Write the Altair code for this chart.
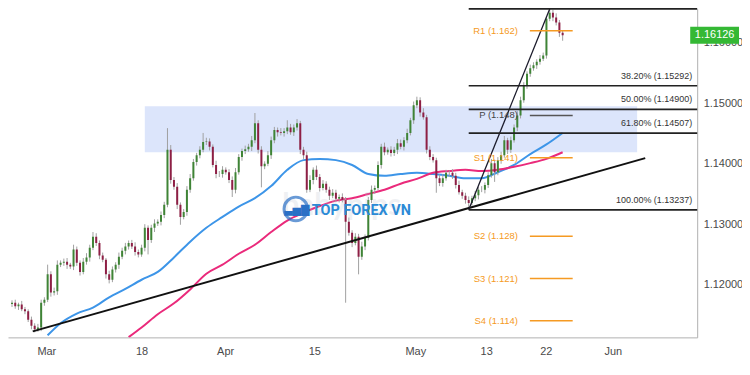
import json
import altair as alt
import pandas as pd

# ---------------- data ----------------
closes = [
    1.1170, 1.1164, 1.1167, 1.1159, 1.1156, 1.1142, 1.1132, 1.1126, 1.1129, 1.1170,
    1.1175, 1.1217, 1.1187, 1.1189, 1.1233, 1.1236, 1.1238, 1.1233, 1.1230, 1.1258,
    1.1236, 1.1221, 1.1238, 1.1245, 1.1261, 1.1279, 1.1269, 1.1248, 1.1241, 1.1217,
    1.1208, 1.1225, 1.1233, 1.1246, 1.1256, 1.1263, 1.1269, 1.1263, 1.1254, 1.1250,
    1.1261, 1.1294, 1.1274, 1.1294, 1.1301, 1.1304, 1.1315, 1.1332, 1.1423, 1.1373,
    1.1362, 1.1332, 1.1312, 1.1320, 1.1357, 1.1376, 1.1403, 1.1414, 1.1423, 1.1436,
    1.1437, 1.1428, 1.1398, 1.1383, 1.1383, 1.1390, 1.1386, 1.1373, 1.1357, 1.1386,
    1.1411, 1.1421, 1.1424, 1.1428, 1.1439, 1.1467, 1.1423, 1.1396, 1.1400, 1.1414,
    1.1439, 1.1456, 1.1452, 1.1451, 1.1454, 1.1460, 1.1452, 1.1460, 1.1467, 1.1423,
    1.1414, 1.1357, 1.1373, 1.1390, 1.1378, 1.1360, 1.1367, 1.1357, 1.1347, 1.1352,
    1.1342, 1.1345, 1.1340, 1.1304, 1.1286, 1.1269, 1.1279, 1.1246, 1.1263, 1.1277,
    1.1340, 1.1357, 1.1360, 1.1398, 1.1428, 1.1419, 1.1423, 1.1418, 1.1423, 1.1434,
    1.1428, 1.1439, 1.1451, 1.1472, 1.1497, 1.1505, 1.1485, 1.1477, 1.1423, 1.1411,
    1.1406, 1.1376, 1.1368, 1.1376, 1.1385, 1.1385, 1.1380, 1.1365, 1.1353, 1.1347,
    1.1340, 1.1335, 1.1343, 1.1348, 1.1357, 1.1357, 1.1365, 1.1381, 1.1401, 1.1386,
    1.1406, 1.1414, 1.1439, 1.1423, 1.1439, 1.1460, 1.1480, 1.1505, 1.1530, 1.1549,
    1.1558, 1.1563, 1.1569, 1.1574, 1.1579, 1.1640, 1.1650, 1.1642, 1.1634, 1.1617,
    1.16126,
]
first_open = 1.1168

# upper / lower wick lengths in pips (0.0001)
up_wick = [
    4, 5, 3, 6, 4, 3, 5, 4, 6, 5,
    4, 16, 5, 6, 7, 4, 5, 6, 3, 8,
    5, 4, 6, 7, 5, 8, 6, 4, 5, 3,
    6, 5, 4, 7, 5, 6, 4, 5, 7, 4,
    5, 6, 4, 5, 7, 4, 6, 5, 36, 8,
    5, 6, 4, 5, 6, 7, 5, 4, 6, 15,
    6, 5, 4, 7, 5, 6, 4, 5, 6, 7,
    5, 4, 6, 5, 7, 17, 5, 6, 4, 7,
    6, 5, 4, 7, 5, 12, 6, 5, 7, 4,
    5, 6, 8, 4, 7, 5, 6, 4, 5, 6,
    5, 4, 6, 5, 7, 4, 6, 5, 8, 6,
    5, 7, 4, 6, 5, 7, 4, 6, 5, 7,
    6, 5, 7, 4, 6, 6, 5, 7, 4, 6,
    5, 4, 6, 7, 5, 4, 6, 5, 7, 4,
    5, 6, 4, 7, 5, 6, 4, 5, 7, 6,
    5, 6, 7, 4, 6, 5, 7, 6, 5, 4,
    6, 5, 4, 6, 5, 4, 6, 5, 7, 4,
    3,
]
dn_wick = [
    5, 4, 6, 3, 5, 4, 6, 5, 4, 6,
    5, 4, 7, 5, 6, 4, 5, 7, 4, 6,
    5, 6, 4, 5, 7, 4, 5, 6, 4, 7,
    6, 4, 5, 7, 4, 6, 5, 4, 6, 5,
    4, 6, 24, 5, 7, 4, 6, 5, 4, 6,
    5, 7, 13, 4, 6, 5, 4, 6, 5, 4,
    5, 6, 4, 7, 5, 6, 4, 5, 12, 6,
    4, 6, 5, 4, 7, 5, 6, 35, 5, 4,
    6, 5, 7, 4, 6, 5, 4, 6, 5, 7,
    6, 5, 4, 7, 5, 6, 4, 5, 7, 4,
    5, 6, 4, 134, 5, 7, 4, 29, 5, 6,
    4, 5, 7, 4, 6, 5, 4, 6, 5, 7,
    4, 6, 5, 4, 6, 5, 7, 4, 6, 5,
    4, 24, 5, 6, 4, 7, 5, 6, 4, 5,
    6, 11, 4, 5, 7, 4, 6, 5, 4, 16,
    5, 6, 4, 7, 5, 4, 6, 5, 4, 6,
    5, 4, 6, 5, 4, 5, 4, 6, 5, 7,
    9,
]

blue_ma_bars = [11, 15, 20, 25, 30, 35, 40, 45, 50, 55, 60, 65, 70, 75, 80, 85, 90,
                95, 100, 105, 110, 115, 120, 125, 130, 135, 140, 145, 150, 155, 160, 165, 170]
blue_ma = [1.1116, 1.1136, 1.1152, 1.1162, 1.1179, 1.1193, 1.1208, 1.1221, 1.1245, 1.1271,
           1.1294, 1.1312, 1.1329, 1.1343, 1.1363, 1.1390, 1.1406, 1.1408, 1.1406, 1.1398,
           1.1383, 1.1380, 1.1383, 1.1385, 1.1383, 1.1380, 1.1376, 1.1376, 1.1386, 1.1398,
           1.1416, 1.1432, 1.1451]
pink_ma_bars = [36, 40, 45, 50, 55, 60, 65, 70, 75, 80, 85, 90, 95, 100, 105, 110, 115,
                120, 125, 130, 135, 140, 145, 150, 155, 160, 165, 170]
pink_ma = [1.1113, 1.1129, 1.1151, 1.1169, 1.1192, 1.1218, 1.1233, 1.1251, 1.1266, 1.1287,
           1.1306, 1.1319, 1.1330, 1.1339, 1.1343, 1.1350, 1.1357, 1.1367, 1.1375, 1.1385,
           1.1388, 1.1390, 1.1388, 1.1390, 1.1395, 1.1401, 1.1408, 1.1419]

fib_ratio = ["0.00%", "38.20%", "50.00%", "61.80%", "100.00%"]
fib_price = [1.16563, 1.15292, 1.14900, 1.14507, 1.13237]
fib_anchor_bar = 141

pivot_name = ["R1", "P", "S1", "S2", "S3", "S4"]
pivot_price = [1.162, 1.148, 1.141, 1.128, 1.121, 1.114]

zone_bars = [41, 193]
zone_prices = [1.1419, 1.1495]

trend_bars = [6.4, 195.5]
trend_prices = [1.11225, 1.14093]
steep_bars = [141, 166]
steep_prices = [1.13237, 1.16563]

x_tick_pos = [10.6, 40.0, 65.8, 93.3, 124.5, 146.4, 164.8, 185.5]
x_tick_lbl = ["Mar", "18", "Apr", "15", "May", "13", "22", "Jun"]
y_ticks = [1.12, 1.13, 1.14, 1.15, 1.16]
last_price = 1.16126
watermark = "TOP FOREX VN"

# ---------------- tables ----------------
assert len(closes) == len(up_wick) == len(dn_wick)
opens = [first_open] + closes[:-1]
rows = []
for i, (o, c, u, d) in enumerate(zip(opens, closes, up_wick, dn_wick)):
    rows.append({
        "bar": i, "open": o, "close": c,
        "high": max(o, c) + u * 1e-4, "low": min(o, c) - d * 1e-4,
        "dir": "up" if c >= o else "down",
    })
candles = pd.DataFrame(rows)

blue_df = pd.DataFrame({"bar": blue_ma_bars, "p": blue_ma})
pink_df = pd.DataFrame({"bar": pink_ma_bars, "p": pink_ma})
trend_df = pd.DataFrame({"bar": trend_bars, "p": trend_prices})
steep_df = pd.DataFrame({"bar": steep_bars, "p": steep_prices})
zone_df = pd.DataFrame({"b1": [zone_bars[0]], "b2": [zone_bars[1]],
                        "p1": [zone_prices[0]], "p2": [zone_prices[1]]})
fib_df = pd.DataFrame({"bar": [fib_anchor_bar] * len(fib_price), "p": fib_price,
                       "label": [f"{r} ({v:.5f})" for r, v in zip(fib_ratio, fib_price)]})
piv_all = pd.DataFrame({"name": pivot_name, "p": pivot_price,
                        "label": [f"{n} ({v:.3f})" for n, v in zip(pivot_name, pivot_price)]})
piv_lv = piv_all[piv_all["name"] != "P"]
piv_p = piv_all[piv_all["name"] == "P"]
badge_df = pd.DataFrame({"p": [last_price], "hi": [last_price + 0.0014],
                         "lo": [last_price - 0.0014], "txt": [f"{last_price:.5f}"]})
wm_df = pd.DataFrame({"t": [watermark]})
bp_df = pd.DataFrame({"t": ["babypips"]})

# ---------------- scales / axes ----------------
FONT = "Liberation Sans Narrow, Liberation Sans, Arial"
W, H = 692, 330
xs = alt.Scale(domain=[0.3, 210], nice=False, zero=False)
ys = alt.Scale(domain=[1.11126, 1.16566], nice=False, zero=False)
xaxis = alt.Axis(values=x_tick_pos, title=None, ticks=False, grid=False,
                 labelExpr=f"{json.dumps(x_tick_lbl)}[indexof({json.dumps(x_tick_pos)}, datum.value)]",
                 domainColor="#b0b0b0", labelColor="#4a4a4a", labelFontSize=11,
                 labelPadding=8, labelFont=FONT)
yaxis = alt.Axis(orient="right", values=y_ticks, format=".5f", title=None, ticks=False,
                 grid=False, domainColor="#b0b0b0", labelColor="#4a4a4a", labelFontSize=11,
                 labelPadding=6, labelFont=FONT)


def X(f):
    return alt.X(f, type="quantitative", scale=xs, axis=xaxis)


def Y(f):
    return alt.Y(f, type="quantitative", scale=ys, axis=yaxis)


zone = alt.Chart(zone_df).mark_rect(color="#dce5fb").encode(
    x=X("b1"), x2="b2", y=Y("p1"), y2="p2")

blue = alt.Chart(blue_df).mark_line(color="#3d95e8", strokeWidth=2, clip=True,
                                    interpolate="monotone").encode(x=X("bar"), y=Y("p"))
pink = alt.Chart(pink_df).mark_line(color="#ea2a7b", strokeWidth=2, clip=True,
                                    interpolate="monotone").encode(x=X("bar"), y=Y("p"))

wicks = alt.Chart(candles).mark_rule(color="#a0a0a0", strokeWidth=1, clip=True).encode(
    x=X("bar"), y=Y("low"), y2="high")
bodies = alt.Chart(candles).mark_bar(size=2, clip=True).encode(
    x=X("bar"), y=Y("open"), y2="close",
    color=alt.Color("dir:N", scale=alt.Scale(domain=["up", "down"],
                                             range=["#3f8436", "#8e1f45"]), legend=None))

trend = alt.Chart(trend_df).mark_line(color="#111111", strokeWidth=2, clip=True).encode(
    x=X("bar"), y=Y("p"))
steep = alt.Chart(steep_df).mark_line(color="#1b1b2b", strokeWidth=1.3, clip=True).encode(
    x=X("bar"), y=Y("p"))

fib_rules = alt.Chart(fib_df).mark_rule(color="#222222", strokeWidth=1.6).encode(
    x=X("bar"), x2=alt.value(W), y=Y("p"))
fib_text = alt.Chart(fib_df).mark_text(align="right", baseline="middle", dy=-10,
                                       fontSize=9, color="#333333", font=FONT,
                                       clip=True).encode(
    x=alt.value(687), y=Y("p"), text="label:N")

ORANGE = "#f59a23"
piv_rules_lv = alt.Chart(piv_lv).mark_rule(strokeWidth=1.5, color=ORANGE).encode(
    x=alt.value(524), x2=alt.value(567), y=Y("p"))
piv_text_lv = alt.Chart(piv_lv).mark_text(align="right", baseline="middle", fontSize=9.5,
                                          font=FONT, color=ORANGE).encode(
    x=alt.value(512), y=Y("p"), text="label:N")
piv_rules_p = alt.Chart(piv_p).mark_rule(strokeWidth=1.5, color="#555555").encode(
    x=alt.value(524), x2=alt.value(567), y=Y("p"))
piv_text_p = alt.Chart(piv_p).mark_text(align="right", baseline="middle", fontSize=9.5,
                                        font=FONT, color="#444444").encode(
    x=alt.value(512), y=Y("p"), text="label:N")

bp = alt.Chart(bp_df).mark_text(fontSize=30, color="#b8c0cc", opacity=0.22, font="Lato",
                                fontWeight="bold").encode(
    x=alt.value(335), y=alt.value(198), text="t:N")
logo = alt.Chart(wm_df).mark_point(shape="circle", size=560, filled=False, strokeWidth=3,
                                   color="#2a70c6").encode(x=alt.value(289), y=alt.value(201))
logo_bars = alt.Chart(wm_df).mark_text(fontSize=11, color="#2a70c6", font="DejaVu Sans").encode(
    x=alt.value(290), y=alt.value(202), text=alt.value("▃▅▇"))
wm = alt.Chart(wm_df).mark_text(align="left", baseline="middle", fontSize=14.5,
                                fontWeight="bold", color="#2b8ad6", font="Roboto").encode(
    x=alt.value(305), y=alt.value(203), text="t:N")

badge = alt.Chart(badge_df).mark_rect(color="#34b834").encode(
    x=alt.value(685), x2=alt.value(734), y=Y("hi"), y2="lo")
badge_txt = alt.Chart(badge_df).mark_text(color="white", fontSize=11, font=FONT,
                                          baseline="middle").encode(
    x=alt.value(709.5), y=Y("p"), text="txt:N")

chart = alt.layer(
    zone, blue, pink, wicks, bodies, trend, steep, fib_rules, fib_text,
    piv_rules_lv, piv_text_lv, piv_rules_p, piv_text_p, bp, logo, logo_bars, wm,
    badge, badge_txt
).properties(
    width=W, height=H,
    padding={"left": 0, "top": 0, "right": 45, "bottom": 30},
    autosize=alt.AutoSizeParams(type="none"),
    background="white",
).configure_view(stroke=None)

chart.save("out.html", embed_options={"renderer": "svg", "actions": False})
